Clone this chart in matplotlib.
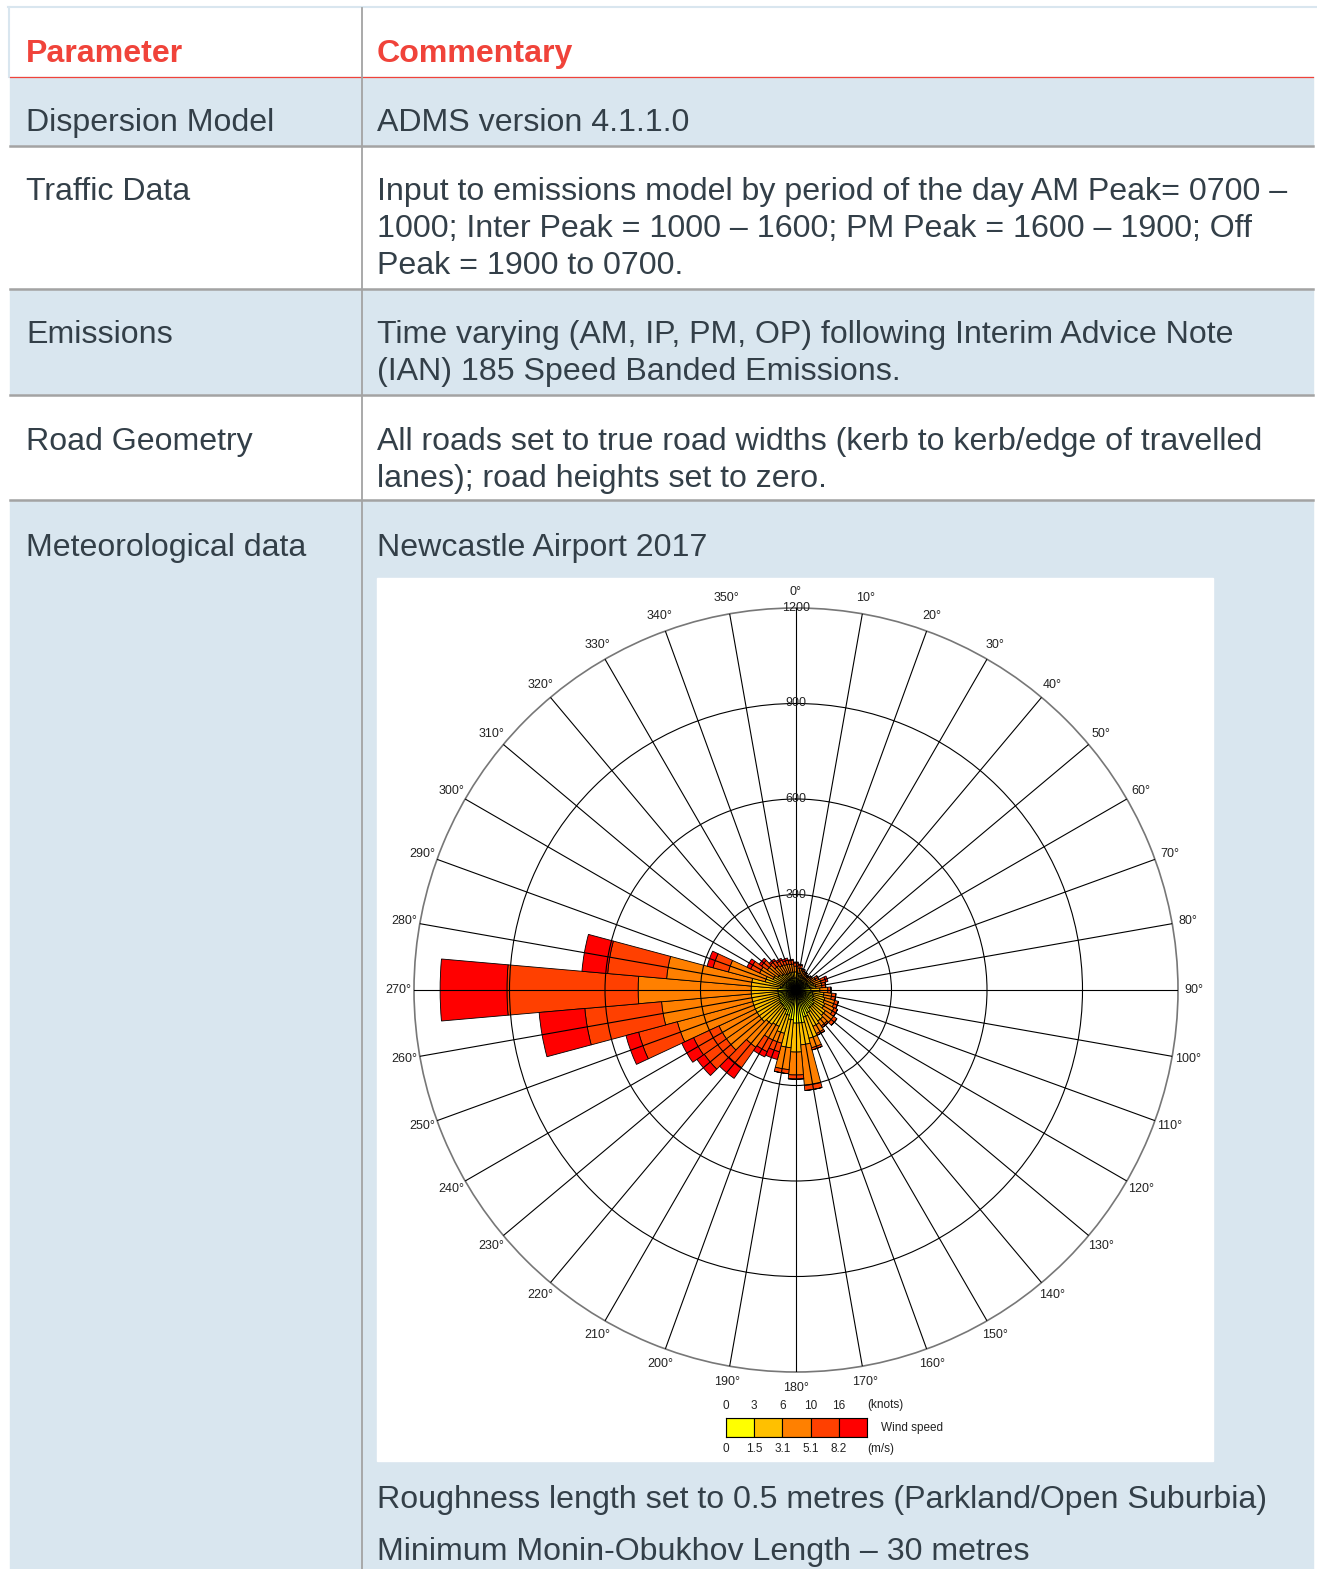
import numpy as np
import matplotlib.pyplot as plt
from matplotlib.patches import Rectangle

plt.rcParams['font.family'] = ['Liberation Sans', 'DejaVu Sans']

W, H = 1317, 1569

# table contents
header = ["Parameter", "Commentary"]
params = ["Dispersion Model", "Traffic Data", "Emissions", "Road Geometry", "Meteorological data"]
comments = [
    ["ADMS version 4.1.1.0"],
    ["Input to emissions model by period of the day AM Peak= 0700 \u2013",
     "1000; Inter Peak = 1000 \u2013 1600; PM Peak = 1600 \u2013 1900; Off",
     "Peak = 1900 to 0700."],
    ["Time varying (AM, IP, PM, OP) following Interim Advice Note",
     "(IAN) 185 Speed Banded Emissions."],
    ["All roads set to true road widths (kerb to kerb/edge of travelled",
     "lanes); road heights set to zero."],
    ["Newcastle Airport 2017"],
]
met_notes = ["Roughness length set to 0.5 metres (Parkland/Open Suburbia)",
             "Minimum Monin-Obukhov Length \u2013 30 metres"]

# wind rose: hours per 10 degree sector, by wind speed class (m/s)
directions = np.arange(0, 360, 10)
ws_0_15 = [38, 35, 31, 31, 31, 31, 38, 38, 44, 47, 53, 57, 63, 69, 69, 79, 88, 104,
           104, 94, 82, 69, 63, 63, 60, 57, 57, 57, 50, 44, 41, 38, 38, 38, 38, 38]
ws_15_31 = [19, 18, 16, 13, 13, 13, 15, 19, 19, 28, 35, 37, 37, 44, 50, 47, 69, 69,
            91, 88, 59, 57, 69, 78, 81, 84, 84, 84, 91, 56, 38, 31, 25, 19, 19, 19]
ws_31_51 = [18, 16, 16, 13, 9, 13, 16, 25, 19, 25, 25, 32, 32, 31, 19, 25, 31, 128,
            72, 69, 32, 47, 88, 126, 126, 245, 283, 355, 267, 120, 47, 41, 31, 31, 28, 25]
ws_51_82 = [10, 10, 6, 6, 4, 6, 10, 15, 12, 10, 13, 12, 12, 13, 6, 6, 7, 16,
            13, 13, 28, 41, 78, 85, 88, 126, 242, 412, 186, 50, 31, 22, 19, 16, 12, 12]
ws_82_up = [3, 3, 0, 0, 0, 0, 0, 7, 0, 0, 0, 0, 0, 0, 0, 0, 0, 0,
            0, 0, 25, 18, 41, 28, 41, 41, 144, 210, 81, 19, 13, 9, 6, 6, 7, 3]
speed_classes = [ws_0_15, ws_15_31, ws_31_51, ws_51_82, ws_82_up]
speed_ms = ["0", "1.5", "3.1", "5.1", "8.2"]
speed_knots = ["0", "3", "6", "10", "16"]
colours = ["#FFFF00", "#FFC000", "#FF8000", "#FF4000", "#FF0000"]
rings = [300, 600, 900, 1200]

blue = "#D9E6EF"
grey = "#A3A3A3"
red = "#F0433A"
ink = "#333F48"

fig = plt.figure(figsize=(W / 100, H / 100), dpi=100)
bg = fig.add_axes([0, 0, 1, 1])
bg.set_xlim(0, W)
bg.set_ylim(H, 0)
bg.axis('off')

# row backgrounds
row_top = [77, 146, 289, 395, 500]
row_bot = [146, 289, 395, 500, H]
for i in range(5):
    c = blue if i % 2 == 0 else "white"
    bg.add_patch(Rectangle((10, row_top[i]), 1303, row_bot[i] - row_top[i], color=c, zorder=0))

# borders
bg.plot([8, W], [7, 7], color=blue, lw=1.5)
bg.plot([9, 9], [7, 77], color=blue, lw=1.5)
bg.plot([10, 1313], [77, 77], color=red, lw=0.9)
for y in row_bot[:-1]:
    bg.plot([10, 1313], [y, y], color=grey, lw=1.8)
bg.plot([362, 362], [8, H], color=grey, lw=1.3)

fs = 23.1
bg.text(26, 62, header[0], color=red, fontsize=fs, fontweight='bold')
bg.text(377, 62, header[1], color=red, fontsize=fs, fontweight='bold')
first_base = [131, 200, 343, 450, 556]
for i in range(5):
    bg.text(26, first_base[i], params[i], color=ink, fontsize=fs)
    for j, line in enumerate(comments[i]):
        bg.text(377, first_base[i] + 37 * j, line, color=ink, fontsize=fs)
for j, line in enumerate(met_notes):
    bg.text(377, 1508 + 52 * j, line, color=ink, fontsize=fs)

# white picture box
bg.add_patch(Rectangle((377, 578), 836, 883, color="white", zorder=1))

# wind rose
cx, cy, R = 796, 990, 382
rose = fig.add_axes([(cx - R) / W, (H - cy - R) / H, 2 * R / W, 2 * R / H], projection='polar')
rose.set_facecolor("white")
rose.set_theta_zero_location('N')
rose.set_theta_direction(-1)
bottom = np.zeros(len(directions))
for vals, c in zip(speed_classes, colours):
    vals = np.array(vals)
    rose.bar(np.deg2rad(directions), vals, width=np.deg2rad(10), bottom=bottom,
             color=c, edgecolor='black', linewidth=0.6)
    bottom += vals
rose.set_ylim(0, rings[-1])
rose.set_axisbelow(False)
rose.set_thetagrids(directions, [f"{d}\u00b0" for d in directions], fontsize=9, color="#222222")
rose.set_rgrids(rings[:-1], labels=[])
rose.tick_params(axis='x', pad=1)
rose.grid(True, color='black', lw=0.8)
rose.spines['polar'].set_color('#777777')
rose.spines['polar'].set_linewidth(1.2)
for r in rings:
    rose.text(0, r, str(r), ha='center', va='center', fontsize=9, color="#222222")

# speed legend
leg = fig.add_axes([726 / W, (H - 1437) / H, 141 / W, 19 / H])
leg.bar(range(5), [1] * 5, width=1, align='edge', color=colours, edgecolor='black', linewidth=0.8)
leg.set_xlim(0, 5)
leg.set_ylim(0, 1)
leg.set_yticks([])
leg.set_xticks(range(5), speed_ms)
leg.tick_params(length=0, labelsize=8.5, pad=4, labelcolor="#222222")
top = leg.secondary_xaxis('top')
top.set_xticks(range(5), speed_knots)
top.tick_params(length=0, labelsize=8.5, pad=4, labelcolor="#222222")
top.spines['top'].set_visible(False)
leg.text(5.0, 1.7, "(knots)", fontsize=8.5, va='center', color="#222222")
leg.text(5.0, -0.65, "(m/s)", fontsize=8.5, va='center', color="#222222")
leg.text(5.5, 0.5, "Wind speed", fontsize=8.5, va='center', color="#222222")

fig.savefig("out.png", dpi=100)
